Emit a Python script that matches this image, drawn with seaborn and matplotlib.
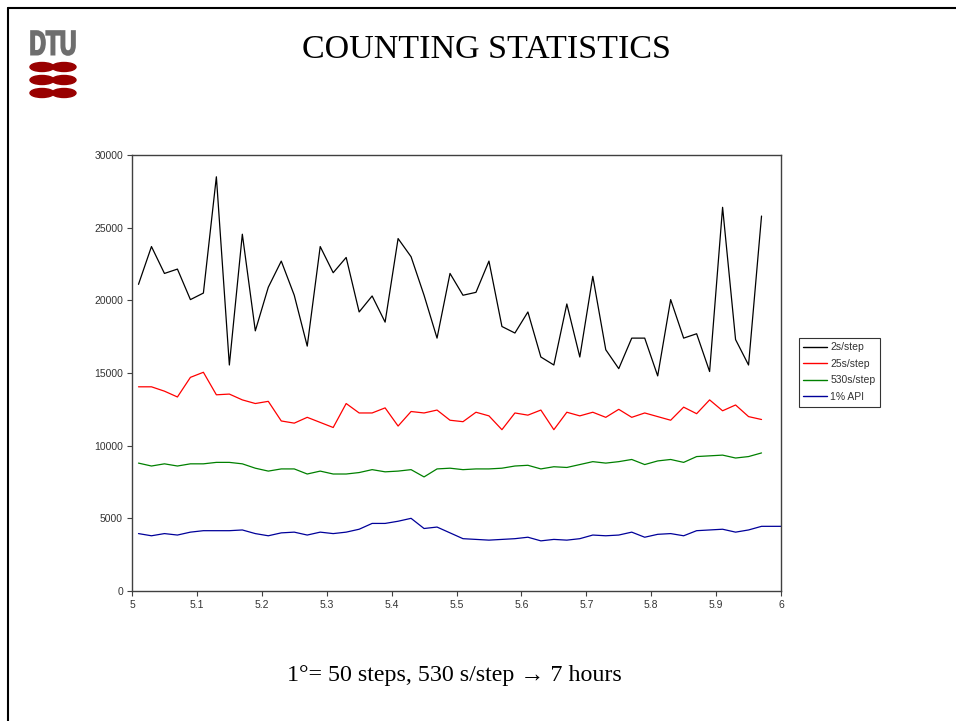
import numpy as np
import pandas as pd
import matplotlib
matplotlib.use("Agg")
import matplotlib.pyplot as plt
import seaborn as sns
from matplotlib.lines import Line2D
from matplotlib.patches import Ellipse, PathPatch
from matplotlib.textpath import TextPath
from matplotlib.font_manager import FontProperties
from matplotlib.transforms import Affine2D

# === DATOS ===
angles = [round(5.01 + 0.02 * i, 2) for i in range(49)]

step_2s = [21100, 23700, 21850, 22150, 20050, 20500, 28500, 15550, 24550, 17900,
           20900, 22700, 20350, 16850, 23700, 21900, 22950, 19200, 20300, 18500,
           24250, 23000, 20350, 17400, 21850, 20350, 20550, 22700, 18200, 17750,
           19200, 16100, 15550, 19750, 16100, 21650, 16600, 15300, 17400, 17400,
           14800, 20050, 17400, 17700, 15100, 26400, 17300, 15550, 25800]

step_25s = [14050, 14050, 13750, 13350, 14700, 15050, 13500, 13550, 13150, 12900,
            13050, 11700, 11550, 11950, 11600, 11250, 12900, 12250, 12250, 12600,
            11350, 12350, 12250, 12450, 11750, 11650, 12300, 12050, 11100, 12250,
            12100, 12450, 11100, 12300, 12050, 12300, 11950, 12500, 11950, 12250,
            12000, 11750, 12650, 12200, 13150, 12400, 12800, 12000, 11800]

step_530s = [8800, 8600, 8750, 8600, 8750, 8750, 8850, 8850, 8750, 8450,
             8250, 8400, 8400, 8050, 8250, 8050, 8050, 8150, 8350, 8200,
             8250, 8350, 7850, 8400, 8450, 8350, 8400, 8400, 8450, 8600,
             8650, 8400, 8550, 8500, 8700, 8900, 8800, 8900, 9050, 8700,
             8950, 9050, 8850, 9250, 9300, 9350, 9150, 9250, 9500]

api_1pct = [3950, 3800, 3950, 3850, 4050, 4150, 4150, 4150, 4200, 3950,
            3800, 4000, 4050, 3850, 4050, 3950, 4050, 4250, 4650, 4650,
            4800, 5000, 4300, 4400, 4000, 3600, 3550, 3500, 3550, 3600,
            3700, 3450, 3550, 3500, 3600, 3850, 3800, 3850, 4050, 3700,
            3900, 3950, 3800, 4150, 4200, 4250, 4050, 4200, 4450]
# la serie API sigue hasta el borde derecho
api_extra_x = [5.99, 6.01]
api_extra_y = [4450, 4450]

series_names = ["2s/step", "25s/step", "530s/step", "1% API"]
series_colors = ["#000000", "#FF0000", "#008000", "#000099"]

x_ticks = [5, 5.1, 5.2, 5.3, 5.4, 5.5, 5.6, 5.7, 5.8, 5.9, 6]
x_labels = ["5", "5.1", "5.2", "5.3", "5.4", "5.5", "5.6", "5.7", "5.8", "5.9", "6"]
y_ticks = [0, 5000, 10000, 15000, 20000, 25000, 30000]

# === TABLA LARGA ===
frames = []
for name, vals in zip(series_names, [step_2s, step_25s, step_530s, api_1pct]):
    xs = list(angles)
    ys = list(vals)
    if name == "1% API":
        xs += api_extra_x
        ys += api_extra_y
    frames.append(pd.DataFrame({"angle": xs, "counts": ys, "serie": name}))
df = pd.concat(frames, ignore_index=True)

# === FIGURA ===
sns.set_theme(style="white")
plt.rcParams["font.family"] = ["Liberation Sans", "DejaVu Sans"]
plt.rcParams["text.color"] = "black"

fig = plt.figure(figsize=(9.56, 7.21), dpi=100)
ax = fig.add_axes([132 / 956, 130 / 721, 649 / 956, 436 / 721])

sns.lineplot(data=df, x="angle", y="counts", hue="serie", hue_order=series_names,
             palette=series_colors, linewidth=0.9, ax=ax, sort=False,
             estimator=None, legend=False)

ax.set_xlim(5, 6)
ax.set_ylim(0, 30000)
ax.set_xticks(x_ticks)
ax.set_xticklabels(x_labels)
ax.set_yticks(y_ticks)
ax.set_yticklabels([str(v) for v in y_ticks])
ax.set_xlabel("")
ax.set_ylabel("")
ax.tick_params(axis="both", direction="out", length=3.5, width=0.8,
               labelsize=7.5, colors="#404040", labelcolor="#333333",
               bottom=True, left=True, pad=3)
for s in ax.spines.values():
    s.set_color("#404040")
    s.set_linewidth(1.0)

handles = [Line2D([0], [0], color=c, lw=1.0) for c in series_colors]
leg = ax.legend(handles, series_names, loc="center left",
                bbox_to_anchor=(1.027, 0.502), frameon=True, fancybox=False,
                fontsize=7.5, handlelength=2.3, handletextpad=0.3,
                borderpad=0.45, labelspacing=0.62, borderaxespad=0)
leg.get_frame().set_edgecolor("black")
leg.get_frame().set_linewidth(0.8)
for t in leg.get_texts():
    t.set_color("#333333")

# === DIAPOSITIVA ===
fig.add_artist(Line2D([8 / 956, 8 / 956], [0, 1 - 8 / 721], color="black",
                      lw=1.5, transform=fig.transFigure))
fig.add_artist(Line2D([8 / 956, 1], [1 - 8 / 721, 1 - 8 / 721], color="black",
                      lw=1.5, transform=fig.transFigure))

fig.text(486 / 956, 1 - 50 / 721, "COUNTING STATISTICS", ha="center",
         va="center", fontsize=24.5, color="black",
         family=["Liberation Serif", "DejaVu Serif"])
fig.text(454 / 956, 1 - 676 / 721, "1°= 50 steps, 530 s/step → 7 hours",
         ha="center", va="center", fontsize=17.3, color="black",
         family=["Liberation Serif", "DejaVu Serif"])

# logo DTU (texto estrecho)
tp = TextPath((0, 0), "DTU", size=1,
              prop=FontProperties(family="Liberation Sans", weight="bold"))
ext = tp.get_extents()
sx = 44 / ext.width
sy = 24 / ext.height
tr = Affine2D().translate(-ext.x0, -ext.y0).scale(sx, sy) \
    .translate(31, 721 - 55)
fig.add_artist(PathPatch(tr.transform_path(tp), facecolor="#6e6e6e",
                         edgecolor="#6e6e6e", linewidth=1.2, transform=None))
for yy in [67, 80, 93]:
    for xx in [42, 64]:
        fig.add_artist(Ellipse((xx / 956, 1 - yy / 721), 24 / 956, 9 / 721,
                               color="#990000", transform=fig.transFigure))

fig.savefig("out.png", dpi=100, facecolor="white")
